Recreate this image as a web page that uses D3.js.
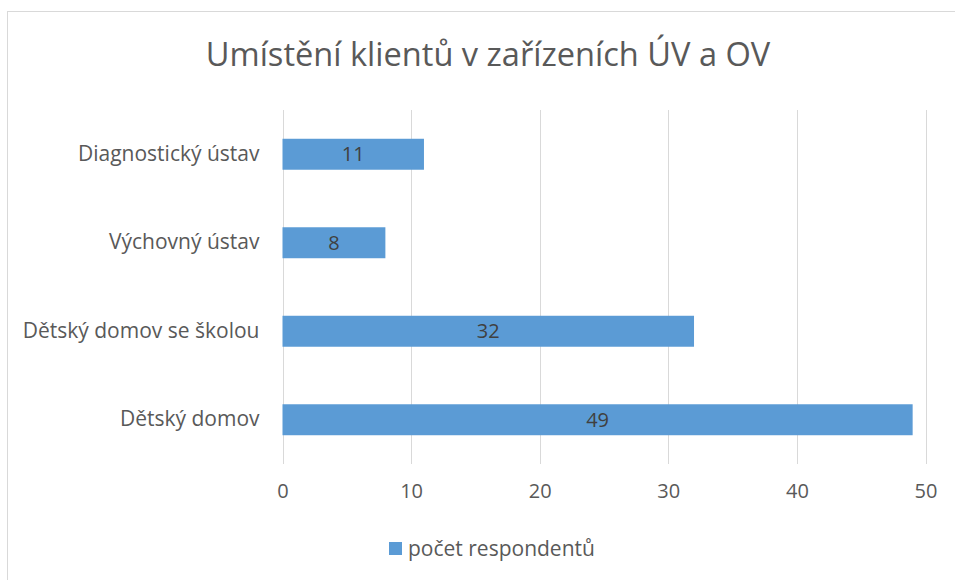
<!DOCTYPE html>
<html><head><meta charset="utf-8">
<script src="https://cdn.jsdelivr.net/npm/d3@7"></script>
<style>html,body{margin:0;padding:0;background:#fff;}svg{display:block;font-family:"Open Sans",sans-serif;}</style>
</head><body>
<script>
const categories = ["Diagnostický ústav", "Výchovný ústav", "Dětský domov se školou", "Dětský domov"];
const values = [11, 8, 32, 49];
const tickValues = [0, 10, 20, 30, 40, 50];
const seriesName = "počet respondentů";
const titleText = "Umístění klientů v zařízeních ÚV a OV";

const W = 955, H = 580;
const svg = d3.select("body").append("svg").attr("width", W).attr("height", H);
svg.append("rect").attr("x", 7.5).attr("y", 11.5).attr("width", 960).attr("height", 600)
  .attr("fill", "#fff").attr("stroke", "#D9D9D9").attr("stroke-width", 1);

const x = d3.scaleLinear().domain([0, 50]).range([282.5, 925.5]);
const y = d3.scaleBand().domain(categories).range([110, 464]).paddingInner(0.65).paddingOuter(0.325);

svg.append("text").attr("x", 488).attr("y", 66).attr("text-anchor", "middle")
  .attr("font-size", 32.6).attr("fill", "#595959").text(titleText);

// gridlines
svg.append("g").selectAll("line").data(tickValues).join("line")
  .attr("x1", d => Math.round(x(d)) + 0.5).attr("x2", d => Math.round(x(d)) + 0.5)
  .attr("y1", 110).attr("y2", 464).attr("stroke", "#D9D9D9").attr("stroke-width", 1);

// bars
svg.append("g").selectAll("rect").data(values).join("rect")
  .attr("x", x(0)).attr("y", (d, i) => y(categories[i]))
  .attr("width", d => x(d) - x(0)).attr("height", y.bandwidth())
  .attr("fill", "#5B9BD5");

// value labels
svg.append("g").selectAll("text").data(values).join("text")
  .attr("x", d => (x(0) + x(d)) / 2).attr("y", (d, i) => y(categories[i]) + y.bandwidth() / 2)
  .attr("dy", "0.36em").attr("text-anchor", "middle").attr("font-size", 20)
  .attr("fill", "#404040").text(d => d);

// y axis labels
const yAxis = d3.axisLeft(y).tickSize(0).tickPadding(23);
const gy = svg.append("g").attr("transform", `translate(${x(0)},0)`).call(yAxis);
gy.select(".domain").remove();
gy.selectAll("text").attr("font-size", 21).attr("fill", "#595959").attr("font-family", "Open Sans");

// x axis labels
const xAxis = d3.axisBottom(x).tickValues(tickValues).tickSize(0).tickPadding(20);
const gx = svg.append("g").attr("transform", `translate(0,464)`).call(xAxis);
gx.select(".domain").remove();
gx.selectAll("text").attr("font-size", 20).attr("fill", "#595959").attr("font-family", "Open Sans");

// legend
const lg = svg.append("g");
lg.append("rect").attr("x", 389).attr("y", 542).attr("width", 13).attr("height", 13).attr("fill", "#5B9BD5");
lg.append("text").attr("x", 408).attr("y", 556).attr("font-size", 21).attr("fill", "#595959").text(seriesName);
</script>
</body></html>
